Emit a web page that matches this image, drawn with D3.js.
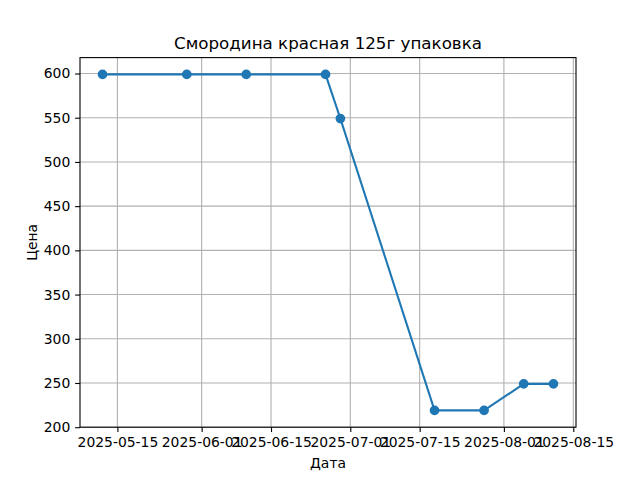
<!DOCTYPE html>
<html>
<head>
<meta charset="utf-8">
<script src="https://cdn.jsdelivr.net/npm/d3@7"></script>
<style>
  body { margin: 0; background: #fff; }
  svg { display: block; font-family: "DejaVu Sans", sans-serif; }
</style>
</head>
<body>
<svg id="chart" width="640" height="480"></svg>
<script>
const dates = ["2025-05-12","2025-05-29","2025-06-10","2025-06-26","2025-06-29","2025-07-18","2025-07-28","2025-08-05","2025-08-11"];
const prices = [599, 599, 599, 599, 549, 219, 219, 249, 249];
const xTickLabels = ["2025-05-15","2025-06-01","2025-06-15","2025-07-01","2025-07-15","2025-08-01","2025-08-15"];
const yTicks = [200, 250, 300, 350, 400, 450, 500, 550, 600];
const title = "Смородина красная 125г упаковка";
const xLabel = "Дата";
const yLabel = "Цена";

const parse = d3.utcParse("%Y-%m-%d");
const data = dates.map((d, i) => ({ date: parse(d), value: prices[i] }));

const svg = d3.select("#chart");
const L = 80, R = 576, T = 57.6, B = 427.2;

const xExt = d3.extent(data, d => +d.date);
const xPad = (xExt[1] - xExt[0]) * 0.05;
const x = d3.scaleUtc().domain([new Date(xExt[0] - xPad), new Date(xExt[1] + xPad)]).range([L, R]);

const yExt = d3.extent(data, d => d.value);
const yPad = (yExt[1] - yExt[0]) * 0.05;
const y = d3.scaleLinear().domain([yExt[0] - yPad, yExt[1] + yPad]).range([B, T]);

const xTicks = xTickLabels.map(parse);

// grid
const grid = svg.append("g");
grid.selectAll(".gx").data(xTicks).enter().append("line")
  .attr("x1", d => x(d)).attr("x2", d => x(d)).attr("y1", T).attr("y2", B)
  .attr("stroke", "#b0b0b0").attr("stroke-width", 1.1);
grid.selectAll(".gy").data(yTicks).enter().append("line")
  .attr("x1", L).attr("x2", R).attr("y1", d => y(d)).attr("y2", d => y(d))
  .attr("stroke", "#b0b0b0").attr("stroke-width", 1.1);

// line
const line = d3.line().x(d => x(d.date)).y(d => y(d.value));
svg.append("path").datum(data).attr("d", line)
  .attr("fill", "none").attr("stroke", "#1f77b4").attr("stroke-width", 2.08)
  .attr("stroke-linejoin", "round").attr("stroke-linecap", "square");
svg.selectAll(".pt").data(data).enter().append("circle")
  .attr("cx", d => x(d.date)).attr("cy", d => y(d.value)).attr("r", 4.17)
  .attr("fill", "#1f77b4").attr("stroke", "#1f77b4").attr("stroke-width", 1.39);

// axes
const xAxis = d3.axisBottom(x).tickValues(xTicks).tickFormat(d3.utcFormat("%Y-%m-%d"))
  .tickSizeInner(4.86).tickSizeOuter(0).tickPadding(4.86);
const gx = svg.append("g").attr("transform", `translate(0,${B})`).call(xAxis);
gx.select(".domain").remove();
gx.selectAll("line").attr("stroke", "#000").attr("stroke-width", 1.1);
gx.selectAll("text").attr("font-size", 13.9).attr("fill", "#000").attr("font-family", "DejaVu Sans");

const yAxis = d3.axisLeft(y).tickValues(yTicks).tickSizeInner(4.86).tickSizeOuter(0).tickPadding(4.86);
const gy = svg.append("g").attr("transform", `translate(${L},0)`).call(yAxis);
gy.select(".domain").remove();
gy.selectAll("line").attr("stroke", "#000").attr("stroke-width", 1.1);
gy.selectAll("text").attr("font-size", 13.9).attr("fill", "#000").attr("font-family", "DejaVu Sans");

// spines
svg.append("rect").attr("x", L).attr("y", T).attr("width", R - L).attr("height", B - T)
  .attr("fill", "none").attr("stroke", "#000").attr("stroke-width", 1.1);

// labels
svg.append("text").attr("x", (L + R) / 2).attr("y", 49.3).attr("text-anchor", "middle")
  .attr("font-size", 16.7).attr("fill", "#000").text(title);
svg.append("text").attr("x", (L + R) / 2).attr("y", 468).attr("text-anchor", "middle")
  .attr("font-size", 13.9).attr("fill", "#000").text(xLabel);
svg.append("text").attr("transform", `translate(37,${(T + B) / 2}) rotate(-90)`).attr("text-anchor", "middle")
  .attr("font-size", 13.9).attr("fill", "#000").text(yLabel);
</script>
</body>
</html>
